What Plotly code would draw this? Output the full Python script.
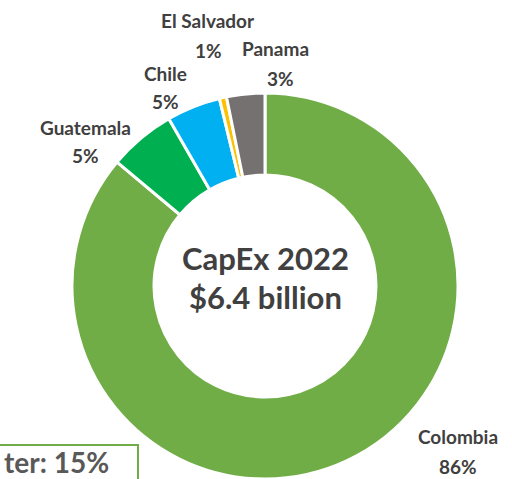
import plotly.graph_objects as go

# ---- data ----
countries = ["Colombia", "Guatemala", "Chile", "El Salvador", "Panama"]
capex_share = [86.1, 5.6, 4.5, 0.6, 3.2]
share_labels = ["86%", "5%", "5%", "1%", "3%"]
center_title = "CapEx 2022"
center_value = "$6.4 billion"
side_note = "ter: 15%"

# ---- style ----
W, H = 512, 479
colors = ["#70AD47", "#00B050", "#00B0F0", "#FFC000", "#767171"]
txt_color = "#404040"
font_family = "Lato, 'Open Sans', sans-serif"

# label positions in pixels (name line, pct line)
name_pos = [(458, 436), (85, 127), (165, 73), (208, 21), (275, 49)]
pct_pos = [(458, 466), (85, 155), (165, 102), (208, 50), (280, 78)]

cx, cy, r = 265, 286, 193


def px(x):
    return x / W


def py(y):
    return 1 - y / H


fig = go.Figure()
fig.add_trace(go.Pie(
    labels=countries,
    values=capex_share,
    sort=False,
    direction="clockwise",
    rotation=0,
    hole=0.575,
    marker=dict(colors=colors, line=dict(color="white", width=3)),
    textinfo="none",
    hoverinfo="label+percent",
    showlegend=False,
    domain=dict(x=[px(cx - r), px(cx + r)], y=[0, py(cy - r)]),
))

annotations = []
for name, pct, (nx, ny), (qx, qy) in zip(countries, share_labels, name_pos, pct_pos):
    annotations.append(dict(x=px(nx), y=py(ny), xref="paper", yref="paper",
                            text=f"<b>{name}</b>", showarrow=False,
                            xanchor="center", yanchor="middle",
                            font=dict(size=19, color=txt_color, family=font_family)))
    annotations.append(dict(x=px(qx), y=py(qy), xref="paper", yref="paper",
                            text=f"<b>{pct}</b>", showarrow=False,
                            xanchor="center", yanchor="middle",
                            font=dict(size=19, color=txt_color, family=font_family)))

annotations.append(dict(x=px(cx), y=py(258), xref="paper", yref="paper",
                        text=f"<b>{center_title}</b>", showarrow=False,
                        xanchor="center", yanchor="middle",
                        font=dict(size=31, color=txt_color, family=font_family)))
annotations.append(dict(x=px(cx), y=py(297), xref="paper", yref="paper",
                        text=f"<b>{center_value}</b>", showarrow=False,
                        xanchor="center", yanchor="middle",
                        font=dict(size=31, color=txt_color, family=font_family)))
annotations.append(dict(x=px(111), y=py(462), xref="paper", yref="paper",
                        text=f"<b>{side_note}</b>", showarrow=False,
                        xanchor="right", yanchor="middle",
                        font=dict(size=28, color="#595959", family=font_family)))

fig.update_layout(
    width=W, height=H,
    margin=dict(l=0, r=0, t=0, b=0),
    paper_bgcolor="white", plot_bgcolor="white",
    annotations=annotations,
    shapes=[dict(type="rect", xref="paper", yref="paper",
                 x0=px(-10), x1=px(138), y0=py(500), y1=py(445),
                 line=dict(color="#70AD47", width=2), fillcolor="rgba(0,0,0,0)")],
)

fig.write_html("out.html", config={"displayModeBar": False},
               post_script="document.body.style.margin='0';document.body.style.overflow='hidden';")
